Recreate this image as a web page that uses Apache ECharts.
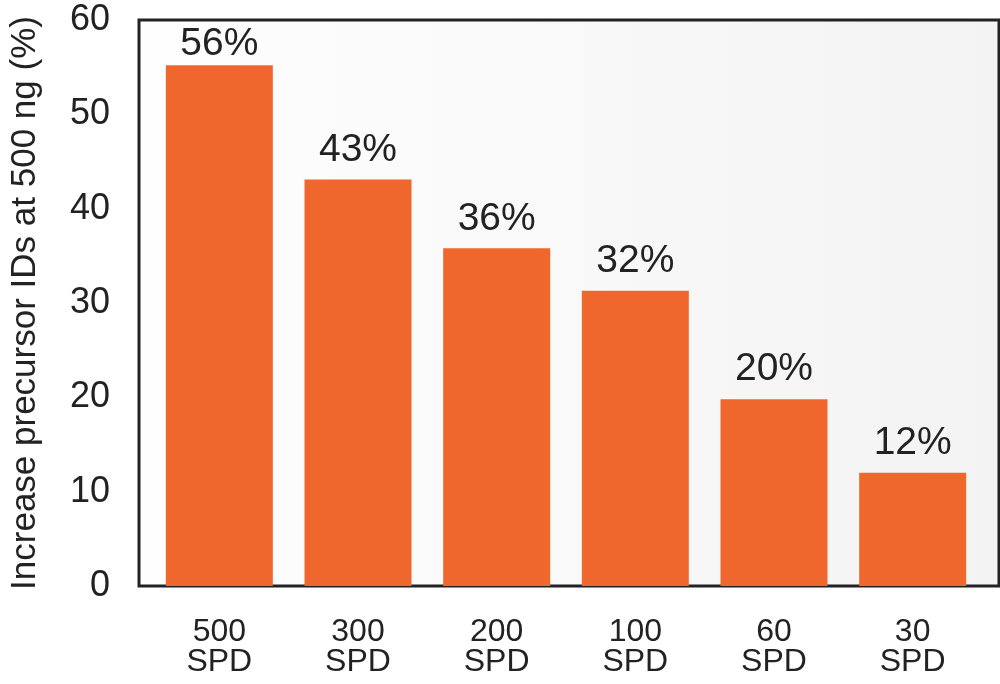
<!DOCTYPE html>
<html>
<head>
<meta charset="utf-8">
<script src="https://cdn.jsdelivr.net/npm/echarts@6/dist/echarts.min.js"></script>
<style>
html,body{margin:0;padding:0;background:#fff;}
#chart{width:1000px;height:684px;}
</style>
</head>
<body>
<div id="chart"></div>
<script>
var categories = ['500\nSPD', '300\nSPD', '200\nSPD', '100\nSPD', '60\nSPD', '30\nSPD'];
var values = [55.2, 43.1, 35.8, 31.3, 19.8, 12.0];
var valueLabels = ['56%', '43%', '36%', '32%', '20%', '12%'];
var yTicks = [0, 10, 20, 30, 40, 50, 60];
var yTitle = 'Increase precursor IDs at 500 ng (%)';

var FONT = "'Liberation Sans', Arial, Helvetica, sans-serif";
var TXT = '#222222';

// the tallest bar's label sits closer to its bar (clamped by the frame top in the original)
var barData = values.map(function (v, i) {
  return i === 0 ? {value: v, label: {distance: 2}} : v;
});

var chart = echarts.init(document.getElementById('chart'), null, {renderer: 'canvas'});
chart.setOption({
  backgroundColor: '#ffffff',
  animation: false,
  grid: [
    {
      left: 131, right: 1, top: 20, bottom: 98,
      show: true, borderColor: '#222222', borderWidth: 3,
      backgroundColor: new echarts.graphic.LinearGradient(0, 0, 1, 0, [
        {offset: 0, color: '#fefefe'},
        {offset: 1, color: '#f3f3f3'}
      ]),
      z: 0
    },
    {left: 150, right: 18, top: 20, bottom: 98}
  ],
  xAxis: [
    {gridIndex: 0, type: 'value', show: false, min: 0, max: 1},
    {
      gridIndex: 1, type: 'category', data: categories,
      axisLine: {show: false}, axisTick: {show: false}, splitLine: {show: false},
      axisLabel: {
        color: TXT, fontFamily: FONT, fontSize: 32, lineHeight: 30, margin: 31,
        interval: 0
      }
    }
  ],
  yAxis: [
    {
      gridIndex: 0, type: 'value', min: yTicks[0], max: yTicks[yTicks.length - 1], interval: 10,
      axisLine: {show: false}, axisTick: {show: false}, splitLine: {show: false},
      axisLabel: {color: TXT, fontFamily: FONT, fontSize: 36, margin: 29},
      name: yTitle, nameLocation: 'middle', nameRotate: 90, nameGap: 96,
      nameTextStyle: {color: TXT, fontFamily: FONT, fontSize: 35}
    },
    {
      gridIndex: 1, type: 'value', min: yTicks[0], max: yTicks[yTicks.length - 1], interval: 10,
      show: false
    }
  ],
  series: [{
    type: 'bar',
    xAxisIndex: 1, yAxisIndex: 1,
    data: barData,
    barWidth: 107,
    itemStyle: {color: '#F0672E'},
    label: {
      show: true, position: 'top', distance: 10,
      color: TXT, fontFamily: FONT, fontSize: 39,
      formatter: function (p) { return valueLabels[p.dataIndex]; }
    },
    z: 3
  }]
});
</script>
</body>
</html>
